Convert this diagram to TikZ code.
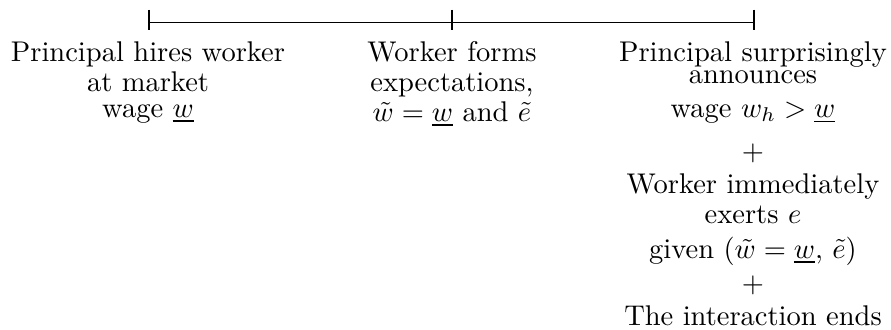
\documentclass[tikz,border=0pt]{standalone}
\usetikzlibrary{calc}
\begin{document}
\begin{tikzpicture}[x=0.3509pt,y=-0.3509pt,
  lbl/.style={anchor=base,inner sep=0pt,outer sep=0pt,font=\fontsize{10}{12}\selectfont},
  tl/.style={line width=0.4pt}]
\useasboundingbox (0,0) rectangle (891,329);
% timeline
\coordinate (t1) at (149,22.7);
\coordinate (t2) at (452,22.7);
\coordinate (t3) at (754,22.7);
\draw[tl] (t1) -- (t3);
\foreach \t in {t1,t2,t3}{
  \draw[tl] ([yshift=4.6pt]\t) -- ([yshift=-2.7pt]\t);
}
% left column
\node[lbl] (a1) at (148,61.5) {Principal hires worker};
\node[lbl] (a2) at (148,91.5) {at market};
\node[lbl] (a3) at (148,117) {wage $\underline{w}$};
% middle column
\node[lbl] (b1) at (452,61.5) {Worker forms};
\node[lbl] (b2) at (452,91.5) {expectations,};
\node[lbl] (b3) at (452,121) {$\tilde{w}=\underline{w}$ and $\tilde{e}$};
% right column
\node[lbl] (c1) at (753,61.5) {Principal surprisingly};
\node[lbl] (c2) at (753,83.3) {announces};
\node[lbl] (c3) at (753,117.3) {wage $w_h>\underline{w}$};
\node[lbl] (c4) at (753,160) {$+$};
\node[lbl] (c5) at (753,193) {Worker immediately};
\node[lbl] (c6) at (753,223) {exerts $e$};
\node[lbl] (c7) at (753,258) {given $(\tilde{w}=\underline{w},\,\tilde{e})$};
\node[lbl] (c8) at (753,292) {$+$};
\node[lbl] (c9) at (753,325) {The interaction ends};
\end{tikzpicture}
\end{document}
